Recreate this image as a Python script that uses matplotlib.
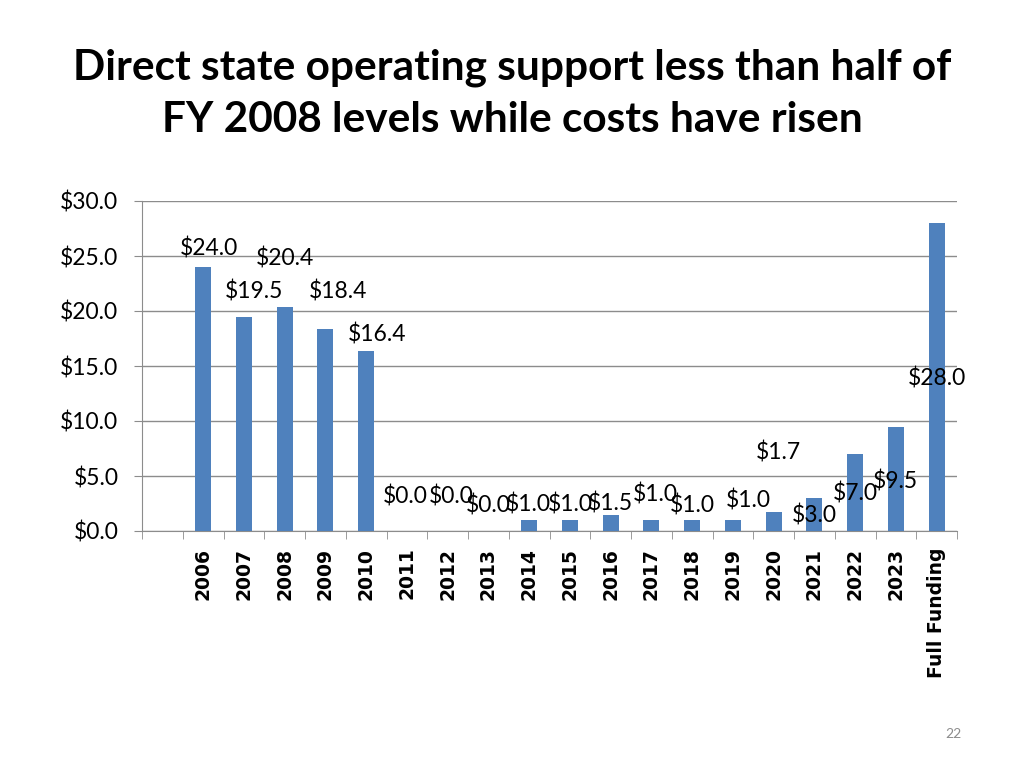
import numpy as np
import matplotlib
matplotlib.use('Agg')
from matplotlib import pyplot as plt

# chart data (first slot is an empty category, as in the original slide)
categories = ['', '2006', '2007', '2008', '2009', '2010', '2011', '2012', '2013',
              '2014', '2015', '2016', '2017', '2018', '2019', '2020', '2021',
              '2022', '2023', 'Full Funding']
values = [np.nan, 24.0, 19.5, 20.4, 18.4, 16.4, 0.0, 0.0, 0.0, 1.0, 1.0, 1.5,
          1.0, 1.0, 1.0, 1.7, 3.0, 7.0, 9.5, 28.0]
yticks = [0, 5, 10, 15, 20, 25, 30]

# where the (hand-moved) data labels sit: x shift in categories, y in data units
label_dx = [0, 0.15, 0.25, 0.0, 0.32, 0.27, -0.05, 0.1, 0.0, -0.02, 0.0, 0.0,
            0.1, 0.0, 0.39, 0.12, 0.0, 0.0, 0.0, 0.0]
label_y = [0, 25.7, 21.8, 24.8, 21.8, 17.9, 3.1, 3.1, 2.3, 2.4, 2.4, 2.5,
           3.3, 2.3, 2.8, 7.1, 1.45, 3.4, 4.5, 13.9]

fig = plt.figure(figsize=(10.24, 7.68), dpi=100)
ax = fig.add_axes([142 / 1024, 1 - 531 / 768, 815 / 1024, 330 / 768])

x = np.arange(len(categories))
ax.bar(x, values, width=0.39, color='#4F81BD', zorder=3)

# data labels
for i, v in enumerate(values):
    if np.isnan(v):
        continue
    ax.text(i + label_dx[i], label_y[i], '${:.1f}'.format(v), ha='center',
            va='center', fontsize=16.5, family='Lato', color='black', zorder=4)

ax.set_xlim(-0.5, len(categories) - 0.5)
ax.set_ylim(0, 30)
ax.set_yticks(yticks)
ax.set_yticklabels(['${:.1f}'.format(t) for t in yticks], fontsize=16.5,
                   family='Lato')
ax.yaxis.grid(True, color='#8c8c8c', linewidth=1, zorder=0)

ax.set_xticks(x)
ax.set_xticklabels(categories, rotation=90, fontsize=13.5, fontweight='bold',
                   family='DejaVu Sans')
ax.set_xticks(np.arange(len(categories) + 1) - 0.5, minor=True)
ax.tick_params(axis='x', which='major', length=0, pad=12)
ax.tick_params(axis='x', which='minor', length=6, color='#8c8c8c')
ax.tick_params(axis='y', length=6, color='#8c8c8c', pad=11)

for side in ['top', 'right']:
    ax.spines[side].set_visible(False)
for side in ['left', 'bottom']:
    ax.spines[side].set_color('#8c8c8c')

fig.text(0.5, 1 - 68 / 768, 'Direct state operating support less than half of',
         ha='center', va='center', fontsize=30.5, fontweight='bold', family='Lato')
fig.text(0.5, 1 - 120 / 768, 'FY 2008 levels while costs have risen',
         ha='center', va='center', fontsize=30.5, fontweight='bold', family='Lato')
fig.text(953 / 1024, 1 - 734 / 768, '22', ha='center', va='center',
         fontsize=10, color='#8c8c8c', family='Lato')

fig.savefig('out.png', dpi=100)
